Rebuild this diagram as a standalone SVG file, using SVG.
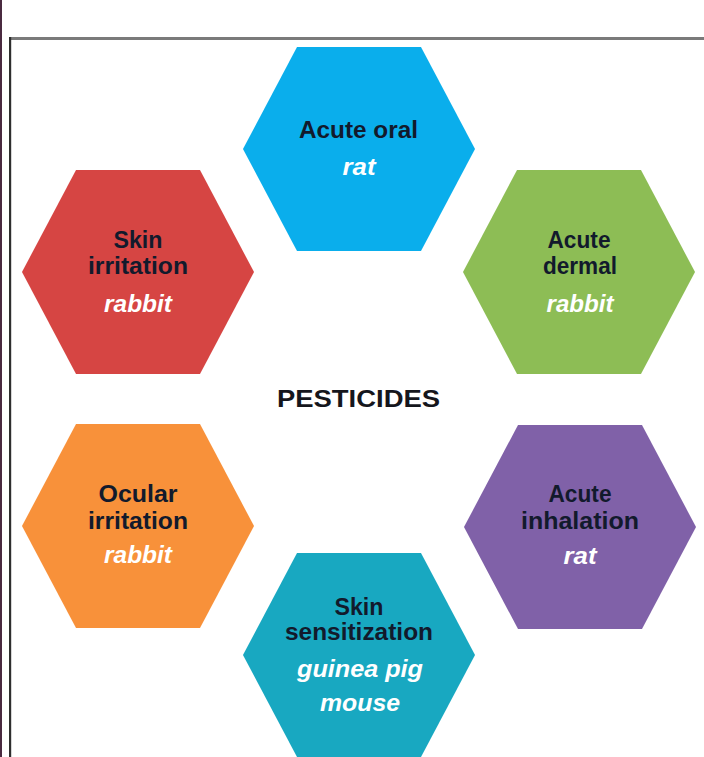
<svg xmlns="http://www.w3.org/2000/svg" width="704" height="757" viewBox="0 0 704 757">
<defs>
<style>
.t{font-family:"Liberation Sans",Arial,sans-serif;font-weight:bold;font-size:23.5px;fill:#121a2c;text-anchor:middle}
.s{font-family:"Liberation Sans",Arial,sans-serif;font-weight:bold;font-style:italic;font-size:23px;fill:#ffffff;text-anchor:middle}
.c{font-family:"Liberation Sans",Arial,sans-serif;font-weight:bold;font-size:24px;fill:#15161c;text-anchor:middle}
</style>
<polygon id="hex" points="-116,0 -62,-102 62,-102 116,0 62,102 -62,102"/>
</defs>
<rect width="704" height="757" fill="#ffffff"/>
<rect x="0" y="0" width="2" height="757" fill="#4a2a40"/>
<rect x="9" y="37" width="695" height="3" fill="#7a7a7a"/>
<rect x="9" y="37" width="2.2" height="720" fill="#2e2e2e"/>
<g id="connectors"/>
<g id="center">
<text class="c" x="358.5" y="407" textLength="163" lengthAdjust="spacingAndGlyphs">PESTICIDES</text>
</g>
<g id="acute-oral">
<use href="#hex" x="359" y="149" fill="#0aaeec"/>
<text class="t" x="358.5" y="138" textLength="119" lengthAdjust="spacingAndGlyphs">Acute oral</text>
<text class="s" x="359" y="175" textLength="33" lengthAdjust="spacingAndGlyphs">rat</text>
</g>
<g id="skin-irritation">
<use href="#hex" x="138" y="272" fill="#d64543"/>
<text class="t" x="138" y="248" textLength="49" lengthAdjust="spacingAndGlyphs">Skin</text>
<text class="t" x="138" y="274" textLength="100" lengthAdjust="spacingAndGlyphs">irritation</text>
<text class="s" x="138" y="312" textLength="68" lengthAdjust="spacingAndGlyphs">rabbit</text>
</g>
<g id="acute-dermal">
<use href="#hex" x="579" y="272" fill="#8dbd55"/>
<text class="t" x="579" y="248" textLength="63" lengthAdjust="spacingAndGlyphs">Acute</text>
<text class="t" x="580" y="274" textLength="74" lengthAdjust="spacingAndGlyphs">dermal</text>
<text class="s" x="580" y="312" textLength="67" lengthAdjust="spacingAndGlyphs">rabbit</text>
</g>
<g id="ocular-irritation">
<use href="#hex" x="138" y="526" fill="#f8913a"/>
<text class="t" x="138" y="502" textLength="79" lengthAdjust="spacingAndGlyphs">Ocular</text>
<text class="t" x="138" y="529" textLength="100" lengthAdjust="spacingAndGlyphs">irritation</text>
<text class="s" x="138" y="563" textLength="68" lengthAdjust="spacingAndGlyphs">rabbit</text>
</g>
<g id="acute-inhalation">
<use href="#hex" x="580" y="527" fill="#8061a8"/>
<text class="t" x="580" y="502" textLength="63" lengthAdjust="spacingAndGlyphs">Acute</text>
<text class="t" x="580" y="529" textLength="118" lengthAdjust="spacingAndGlyphs">inhalation</text>
<text class="s" x="580" y="564" textLength="33" lengthAdjust="spacingAndGlyphs">rat</text>
</g>
<g id="skin-sensitization">
<use href="#hex" x="359" y="655" fill="#18a8c1"/>
<text class="t" x="359" y="615" textLength="49" lengthAdjust="spacingAndGlyphs">Skin</text>
<text class="t" x="359" y="640" textLength="148" lengthAdjust="spacingAndGlyphs">sensitization</text>
<text class="s" x="360" y="677" textLength="126" lengthAdjust="spacingAndGlyphs">guinea pig</text>
<text class="s" x="360" y="711" textLength="80" lengthAdjust="spacingAndGlyphs">mouse</text>
</g>
</svg>
